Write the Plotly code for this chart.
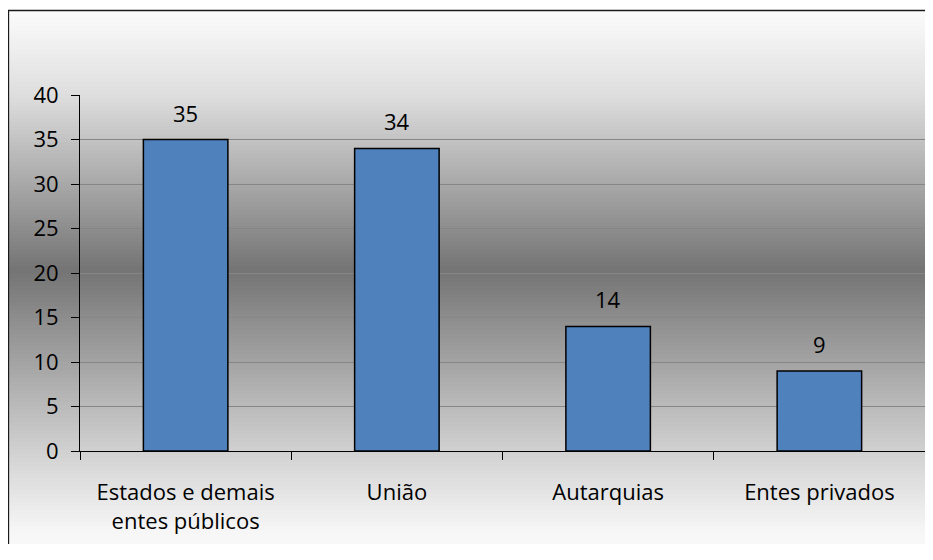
import plotly.graph_objects as go

# data
categories = ["Estados e demais<br>entes públicos", "União", "Autarquias", "Entes privados"]
values = [35, 34, 14, 9]
y_ticks = [0, 5, 10, 15, 20, 25, 30, 35, 40]

# the page has an 8px body margin, so the figure starts at (8, 8);
# keep it a bit small so the page does not scroll
OFF = 8
W, H = 933 - 2 * OFF, 560 - 3 * OFF
# plot area in page pixels
L, R, T, B = 80, 925, 95, 451


def px_x(px):
    return (px - L) / (R - L)


def px_y(py):
    return (B - py) / (B - T)


def grey_at(py):
    # white -> dark grey -> white background like the original
    stops = [(10, 252), (95, 222), (270, 116), (453, 210), (530, 246), (560, 250)]
    for (y0, g0), (y1, g1) in zip(stops, stops[1:]):
        if y0 <= py <= y1:
            g = int(round(g0 + (g1 - g0) * (py - y0) / (y1 - y0)))
            return f"rgb({g},{g},{g})"
    return "rgb(250,250,250)"


shapes = []
step = 4
for py in range(10, 572, step):
    shapes.append(dict(
        type="rect", xref="paper", yref="paper", layer="below",
        x0=px_x(8), x1=px_x(945), y0=px_y(py + step + 0.5), y1=px_y(py),
        fillcolor=grey_at(py + step / 2), line=dict(width=0),
    ))

# chart frame: only the top and left edges are inside the window
frame = dict(color="#1a1a1a", width=1.3)
shapes.append(dict(type="line", xref="paper", yref="paper", layer="above",
                   x0=px_x(8), x1=px_x(945), y0=px_y(10.5), y1=px_y(10.5), line=frame))
shapes.append(dict(type="line", xref="paper", yref="paper", layer="above",
                   x0=px_x(8.5), x1=px_x(8.5), y0=px_y(10), y1=px_y(700), line=frame))

fig = go.Figure()
fig.add_trace(go.Bar(
    x=categories, y=values,
    width=0.4,
    marker=dict(color="#4f81bd", line=dict(color="#000000", width=1.5)),
    hoverinfo="x+y",
))

annotations = []
for c, v in zip(categories, values):
    annotations.append(dict(
        x=c, y=v, xref="x", yref="y", text=str(v),
        showarrow=False, yanchor="bottom", yshift=10,
        font=dict(size=22, color="#000000"),
    ))

fig.update_layout(
    width=W, height=H,
    margin=dict(l=L - OFF, r=OFF + W - R, t=T - OFF, b=OFF + H - B),
    paper_bgcolor="#ffffff",
    plot_bgcolor="rgba(0,0,0,0)",
    font=dict(family="Open Sans, sans-serif", size=22, color="#000000"),
    showlegend=False,
    shapes=shapes,
    annotations=annotations,
)

fig.update_xaxes(
    range=[-0.5, 3.5],
    showline=True, linecolor="#000000", linewidth=1,
    ticks="outside", tickson="boundaries", ticklen=8, tickcolor="#000000",
    showgrid=False, zeroline=False,
    ticklabelstandoff=22,
    tickfont=dict(size=22),
)
fig.update_yaxes(
    range=[0, 40], tickvals=y_ticks,
    showline=True, linecolor="#000000", linewidth=1,
    ticks="outside", ticklen=8, tickcolor="#000000",
    showgrid=True, gridcolor="#868686", gridwidth=1,
    zeroline=False,
    ticklabelstandoff=8,
    tickfont=dict(size=22),
)

fig.write_html("out.html")
